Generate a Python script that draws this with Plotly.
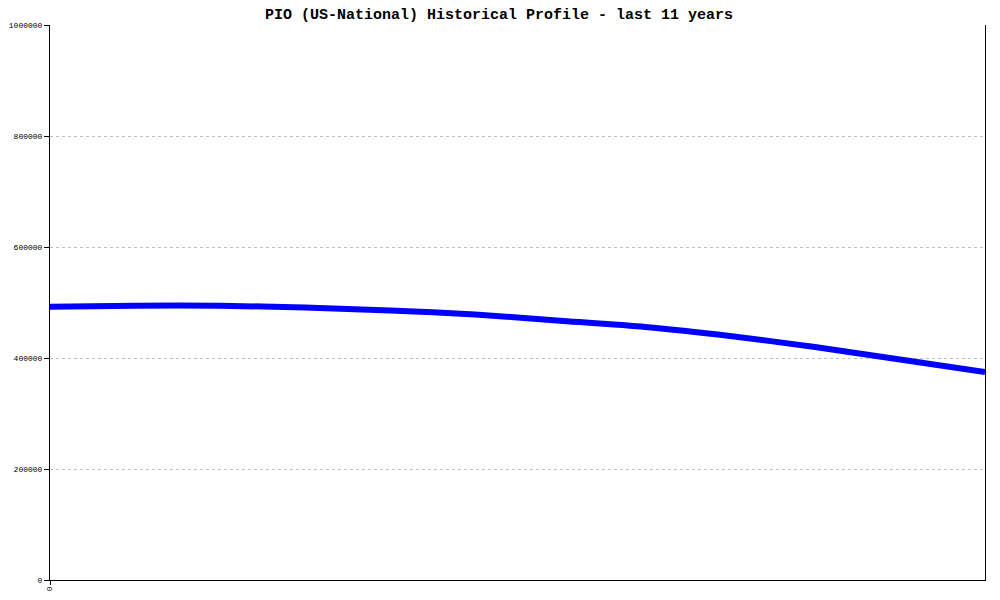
import plotly.graph_objects as go

years = [0, 1, 2, 3, 4, 5, 6, 7, 8, 9, 10, 11]
values = [492400, 494200, 494200, 491000, 485600, 478400, 467200,
          455900, 439600, 419800, 397300, 374800]
y_ticks = [0, 200000, 400000, 600000, 800000, 1000000]
title = "PIO (US-National) Historical Profile - last 11 years"

# page body has an 8px default margin; figure is sized to compensate
W, H = 992, 592

fig = go.Figure()
fig.add_trace(go.Scatter(x=years, y=values, mode="lines",
                         line=dict(color="#0000ff", width=6, shape="spline",
                                   smoothing=0.6),
                         hoverinfo="skip", showlegend=False))

fig.update_layout(
    width=W, height=H,
    margin=dict(l=42, r=15, t=17, b=20, autoexpand=False),
    paper_bgcolor="white", plot_bgcolor="white",
    title=dict(text="<b>" + title + "</b>", x=(499 - 8) / W, xanchor="center",
               xref="container", y=1, yanchor="top", pad=dict(t=0),
               font=dict(family="Liberation Mono", size=15, color="black")),
    font=dict(family="Liberation Mono", size=8, color="black"),
)
fig.update_xaxes(range=[0, 11], tickvals=[0], ticktext=["0"], tickangle=90,
                 showline=True, linecolor="black", linewidth=1,
                 ticks="outside", ticklen=4, tickcolor="black",
                 showgrid=False, zeroline=False, automargin=False,
                 tickfont=dict(family="Liberation Mono", size=8))
fig.update_yaxes(range=[0, 1000000], tickvals=y_ticks,
                 ticktext=[str(v) for v in y_ticks],
                 showline=True, mirror=True, linecolor="black", linewidth=1,
                 ticks="outside", ticklen=5, tickcolor="black",
                 showgrid=True, gridcolor="#c0c0c0", griddash="dot", gridwidth=1,
                 zeroline=False, automargin=False,
                 tickfont=dict(family="Liberation Mono", size=8))
fig.write_html("out.html")
